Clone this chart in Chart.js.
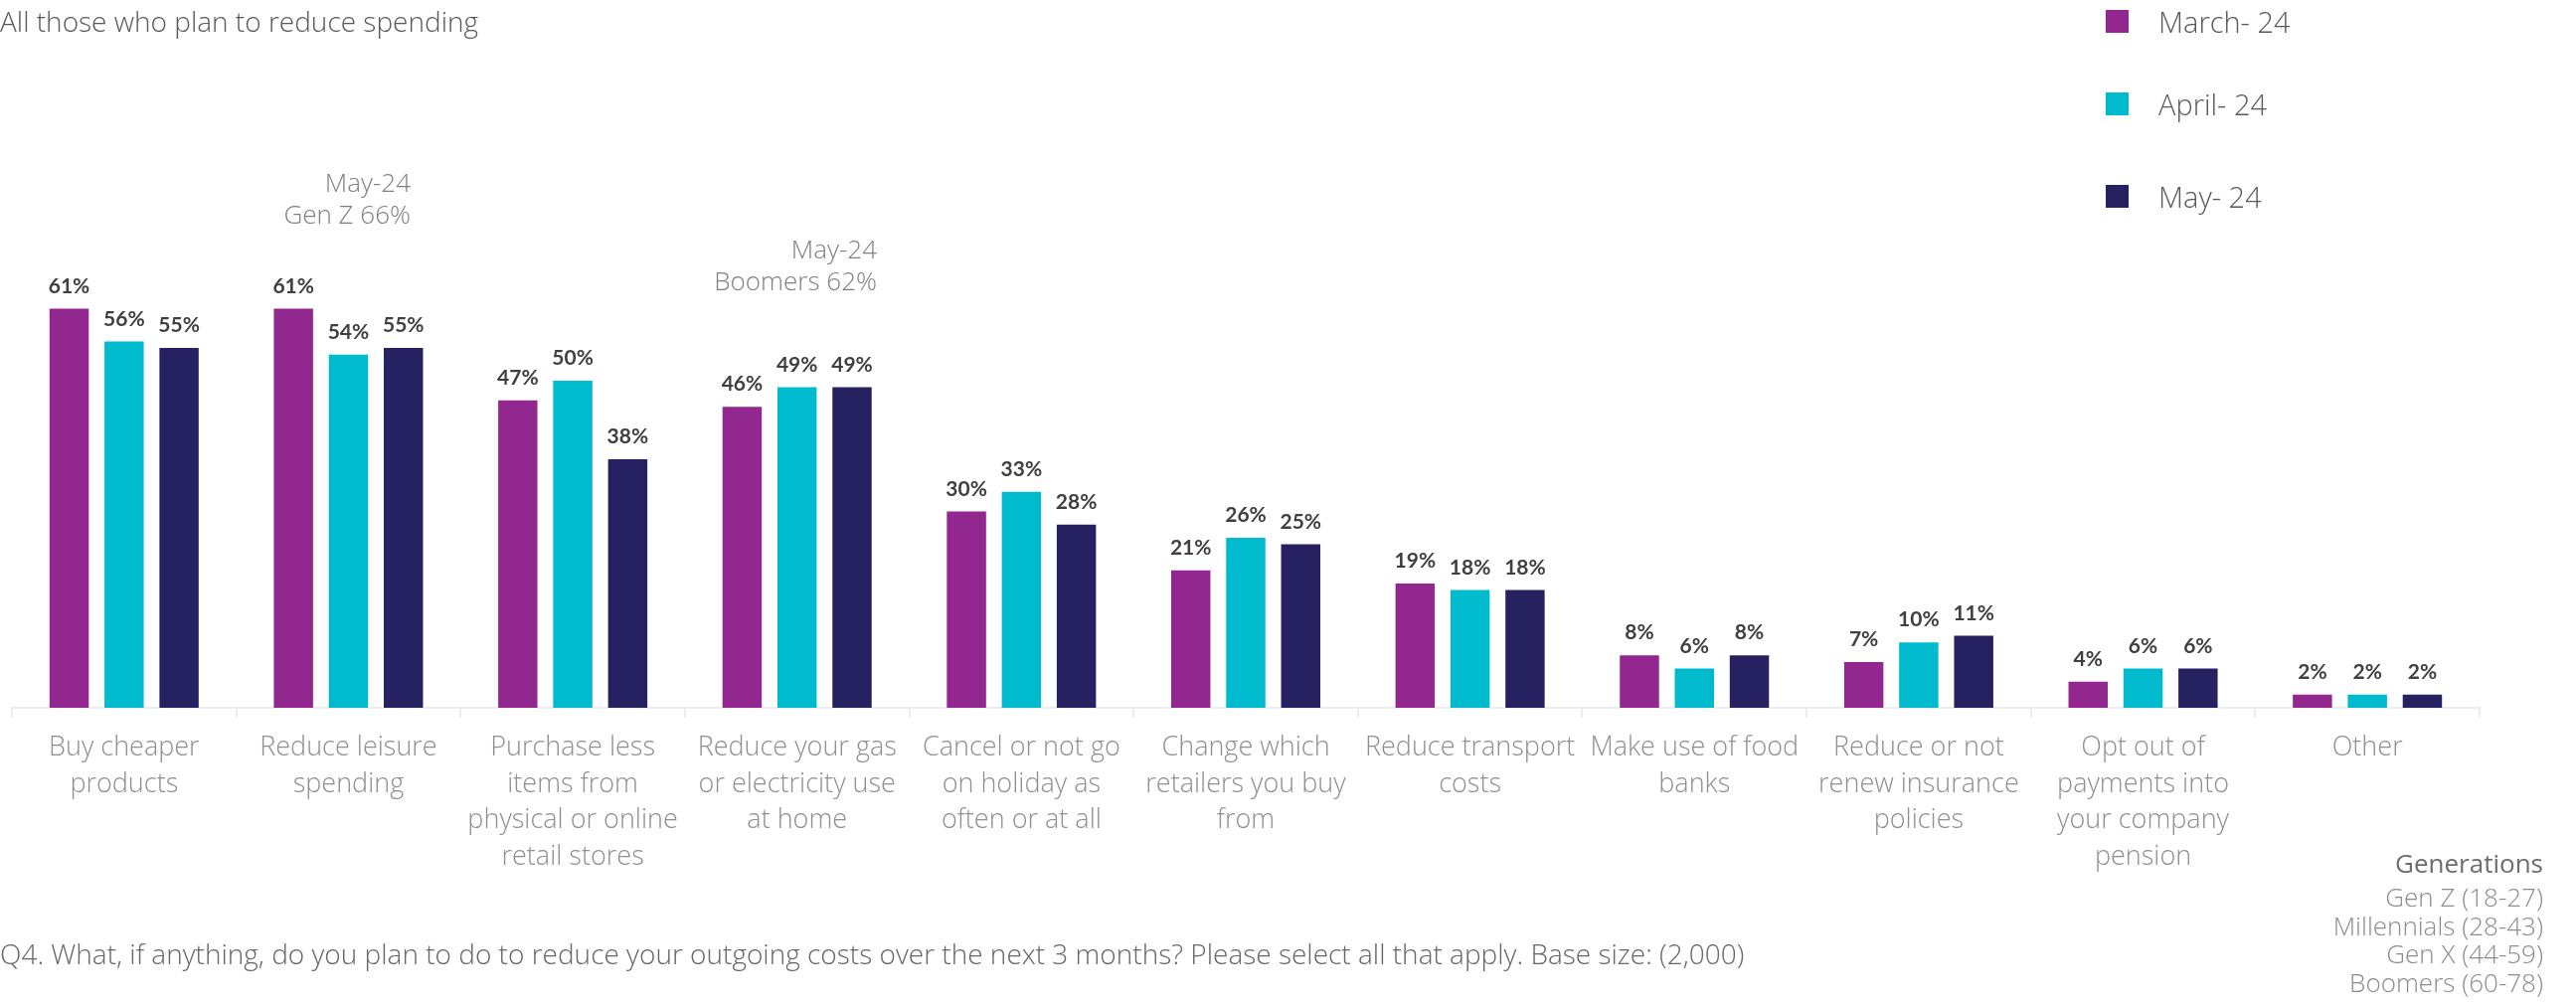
<!DOCTYPE html>
<html>
<head>
<meta charset="utf-8">
<script src="https://cdn.jsdelivr.net/npm/chart.js@4.4.1/dist/chart.umd.min.js"></script>
<style>
  html, body { margin: 0; padding: 0; background: #fff; overflow: hidden; }
  canvas { display: block; }
</style>
</head>
<body>
<canvas id="chart" width="2591" height="1011"></canvas>
<script>
// categories (wrapped the way the slide wraps them)
const categories = [
  ['Buy cheaper', 'products'],
  ['Reduce leisure', 'spending'],
  ['Purchase less', 'items from', 'physical or online', 'retail stores'],
  ['Reduce your gas', 'or electricity use', 'at home'],
  ['Cancel or not go', 'on holiday as', 'often or at all'],
  ['Change which', 'retailers you buy', 'from'],
  ['Reduce transport', 'costs'],
  ['Make use of food', 'banks'],
  ['Reduce or not', 'renew insurance', 'policies'],
  ['Opt out of', 'payments into', 'your company', 'pension'],
  ['Other']
];

const seriesNames = ['March- 24', 'April- 24', 'May- 24'];
const march = [61, 61, 47, 46, 30, 21, 19, 8, 7, 4, 2];
const april = [56, 54, 50, 49, 33, 26, 18, 6, 10, 6, 2];
const may   = [55, 55, 38, 49, 28, 25, 18, 8, 11, 6, 2];

const titleText = 'All those who plan to reduce spending';
const footnoteText = 'Q4. What, if anything, do you plan to do to reduce your outgoing costs over the next 3 months? Please select all that apply. Base size: (2,000)';
const noteGenZ = ['May-24', 'Gen Z 66%'];
const noteBoomers = ['May-24', 'Boomers 62%'];
const generationsHead = 'Generations';
const generations = ['Gen Z (18-27)', 'Millennials (28-43)', 'Gen X (44-59)', 'Boomers (60-78)'];

const colors = ['#92278f', '#00bbce', '#262262'];

// value labels above each bar
const valueLabels = {
  id: 'valueLabels',
  afterDatasetsDraw(chart) {
    const ctx = chart.ctx;
    ctx.save();
    ctx.font = "bold 21px Lato, sans-serif";
    ctx.fillStyle = '#404040';
    ctx.textAlign = 'center';
    ctx.textBaseline = 'alphabetic';
    chart.data.datasets.forEach((ds, i) => {
      chart.getDatasetMeta(i).data.forEach((bar, j) => {
        ctx.fillText(ds.data[j] + '%', bar.x, bar.y - 16);
      });
    });
    ctx.restore();
  }
};

// title, notes, legend, footnote
const extras = {
  id: 'extras',
  afterDraw(chart) {
    const ctx = chart.ctx;
    ctx.save();
    ctx.textBaseline = 'alphabetic';

    ctx.font = "300 28px 'Open Sans', sans-serif";
    ctx.fillStyle = '#595959';
    ctx.textAlign = 'left';
    ctx.fillText(titleText, 0, 32);

    // legend
    chart.data.datasets.forEach((ds, i) => {
      const yb = [33, 116, 209][i];
      ctx.fillStyle = ds.backgroundColor;
      ctx.fillRect(2118, yb - 23, 23, 23);
      ctx.fillStyle = '#595959';
      ctx.font = "300 29px 'Open Sans', sans-serif";
      ctx.fillText(ds.label, 2171, yb);
    });

    // notes
    ctx.font = "300 26px 'Open Sans', sans-serif";
    ctx.fillStyle = '#808080';
    ctx.textAlign = 'right';
    ctx.fillText(noteGenZ[0], 413, 193);
    ctx.fillText(noteGenZ[1], 413, 225);
    ctx.fillText(noteBoomers[0], 882, 260);
    ctx.fillText(noteBoomers[1], 882, 292);

    // footnote
    ctx.textAlign = 'left';
    ctx.fillStyle = '#666666';
    ctx.font = "300 28px 'Open Sans', sans-serif";
    ctx.fillText(footnoteText, 0, 970);

    // generations key
    ctx.textAlign = 'right';
    ctx.font = "400 26px 'Open Sans', sans-serif";
    ctx.fillStyle = '#6d6d6d';
    ctx.fillText(generationsHead, 2558, 878);
    ctx.font = "300 26px 'Open Sans', sans-serif";
    ctx.fillStyle = '#8c8c8c';
    generations.forEach((g, i) => ctx.fillText(g, 2558, 912 + i * 28.5));
    ctx.restore();
  }
};

new Chart(document.getElementById('chart'), {
  type: 'bar',
  data: {
    labels: categories,
    datasets: [march, april, may].map((d, i) => ({
      label: seriesNames[i],
      data: d,
      backgroundColor: colors[i],
      categoryPercentage: 0.735,
      barPercentage: 0.714
    }))
  },
  options: {
    responsive: false,
    animation: false,
    layout: { padding: { left: 12, right: 97, top: 54, bottom: 0 } },
    plugins: { legend: { display: false }, tooltip: { enabled: false } },
    scales: {
      x: {
        afterFit(s) { s.height = 299; },
        grid: { drawOnChartArea: false, drawTicks: true, tickLength: 10, color: '#ececec', lineWidth: 2 },
        border: { color: '#ececec', width: 2 },
        ticks: {
          autoSkip: false, maxRotation: 0, padding: 12, color: '#8f8f8f',
          font: { family: "'Open Sans', sans-serif", size: 27, weight: 300, lineHeight: 1.36 }
        }
      },
      y: { display: false, min: 0, max: 100 }
    }
  },
  plugins: [valueLabels, extras]
});
</script>
</body>
</html>
